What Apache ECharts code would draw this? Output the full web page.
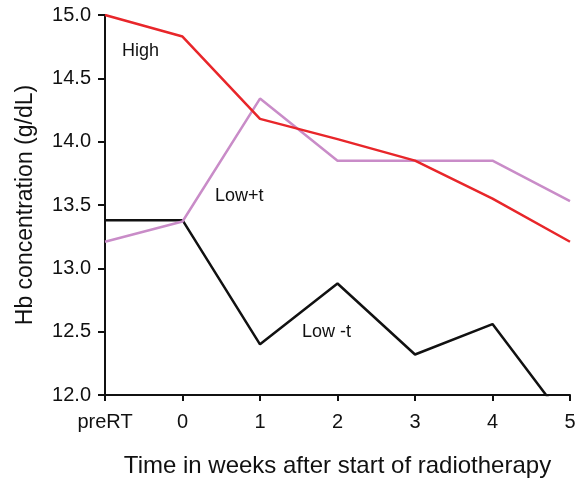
<!DOCTYPE html>
<html>
<head>
<meta charset="utf-8">
<script src="https://cdn.jsdelivr.net/npm/echarts@6/dist/echarts.min.js"></script>
<style>
  html, body { margin: 0; padding: 0; background: #fff; }
  #chart { width: 585px; height: 483px; }
</style>
</head>
<body>
<div id="chart"></div>
<script>
// weeks after start of radiotherapy
let weeks = ['preRT', '0', '1', '2', '3', '4', '5'];
// Hb (g/dL) per group
let highHb = [15.0, 14.83, 14.18, 14.02, 13.85, 13.55, 13.21];
let lowPlusT = [13.21, 13.37, 14.34, 13.85, 13.85, 13.85, 13.53];
let lowMinusT = [13.38, 13.38, 12.40, 12.88, 12.32, 12.56, 11.75];

let yTicks = { min: 12, max: 15, step: 0.5 };

let font = 'Liberation Sans, Arial, sans-serif';

let myChart = echarts.init(document.getElementById('chart'));

function lineSeries(name, data, color) {
    return {
        name: name,
        type: 'line',
        data: data,
        symbol: 'none',
        clip: true,
        lineStyle: { color: color, width: 2.5 },
        z: name == 'High' ? 3 : 2
    };
}

let option = {
    animation: false,
    grid: { left: 105, right: 15, top: 15, bottom: 86 },
    xAxis: {
        type: 'category',
        data: weeks,
        boundaryGap: false,
        name: 'Time in weeks after start of radiotherapy',
        nameLocation: 'middle',
        nameGap: 59,
        nameTextStyle: { fontFamily: font, fontSize: 24, color: '#111' },
        axisLine: { lineStyle: { color: '#111', width: 2 } },
        axisTick: { alignWithLabel: true, length: 6, lineStyle: { color: '#111', width: 2 } },
        axisLabel: { fontFamily: font, fontSize: 20, color: '#111', margin: 17 },
        splitLine: { show: false }
    },
    yAxis: {
        type: 'value',
        min: yTicks.min,
        max: yTicks.max,
        interval: yTicks.step,
        name: 'Hb concentration (g/dL)',
        nameLocation: 'middle',
        nameGap: 68,
        nameTextStyle: { fontFamily: font, fontSize: 23, color: '#111' },
        axisLine: { show: true, lineStyle: { color: '#111', width: 2 } },
        axisTick: { show: true, length: 7, lineStyle: { color: '#111', width: 2 } },
        axisLabel: {
            fontFamily: font, fontSize: 20, color: '#111', margin: 14,
            formatter: function (v) { return v.toFixed(1); }
        },
        splitLine: { show: false }
    },
    series: [
        lineSeries('Low -t', lowMinusT, '#111111'),
        lineSeries('Low+t', lowPlusT, '#c98cc8'),
        lineSeries('High', highHb, '#e8262a')
    ],
    graphic: [
        { type: 'text', left: 122, top: 42, style: { text: 'High', fontFamily: font, fontSize: 18, fill: '#111' } },
        { type: 'text', left: 215, top: 187, style: { text: 'Low+t', fontFamily: font, fontSize: 18, fill: '#111' } },
        { type: 'text', left: 302, top: 323, style: { text: 'Low -t', fontFamily: font, fontSize: 18, fill: '#111' } }
    ]
};

myChart.setOption(option);
</script>
</body>
</html>
